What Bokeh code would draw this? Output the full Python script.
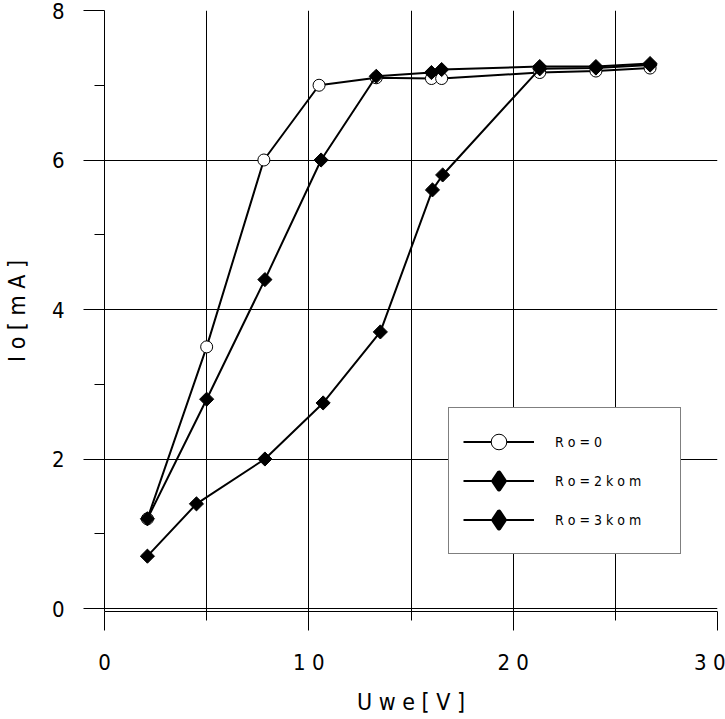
import math
from bokeh.plotting import figure
from bokeh.models import FixedTicker, Legend, LegendItem, Range1d
from bokeh.embed import file_html
from bokeh.resources import INLINE

# ---- data ----
u_ro0 = [2.1, 5.0, 7.8, 10.5, 13.3, 16.0, 16.5, 21.3, 24.05, 26.7]
i_ro0 = [1.2, 3.5, 6.0, 7.0, 7.1, 7.09, 7.09, 7.17, 7.19, 7.23]
u_ro2 = [2.1, 5.0, 7.85, 10.6, 13.3, 16.0, 16.5, 21.3, 24.05, 26.7]
i_ro2 = [1.2, 2.8, 4.4, 6.0, 7.12, 7.17, 7.21, 7.25, 7.25, 7.29]
u_ro3 = [2.1, 4.5, 7.85, 10.7, 13.5, 16.05, 16.55, 21.3, 24.05, 26.7]
i_ro3 = [0.7, 1.4, 2.0, 2.75, 3.7, 5.6, 5.8, 7.22, 7.23, 7.27]

labels = ["R o = 0", "R o = 2 k o m", "R o = 3 k o m"]
x_major = [0, 10, 20, 30]
x_minor = [5, 15, 25]
x_labels = {0: "0", 10: "1 0", 20: "2 0", 30: "3 0"}
y_major = [0, 2, 4, 6, 8]
y_minor = [1, 3, 5, 7]
x_title = "U w e [ V ]"
y_title = "I o [ m A ]"

FONT = "DejaVu Sans Condensed, DejaVu Sans, sans-serif"

p = figure(width=725, height=719, output_backend="svg", toolbar_location=None,
           x_range=Range1d(0, 30), y_range=Range1d(-0.04, 8),
           min_border_left=102, min_border_right=8, min_border_top=10,
           min_border_bottom=108)
p.outline_line_color = None
p.background_fill_color = "white"
p.border_fill_color = "white"

# grids
p.xgrid.ticker = FixedTicker(ticks=sorted(x_major + x_minor))
p.ygrid.ticker = FixedTicker(ticks=y_major)
for g in (p.xgrid, p.ygrid):
    g.grid_line_color = "black"
    g.grid_line_width = 1
    g.grid_line_alpha = 1

# axes
p.xaxis.ticker = FixedTicker(ticks=x_major, minor_ticks=x_minor)
p.xaxis.major_label_overrides = {k: v for k, v in x_labels.items()}
p.yaxis.ticker = FixedTicker(ticks=y_major, minor_ticks=y_minor)
p.xaxis.major_tick_out = 19
p.xaxis.minor_tick_out = 9
p.yaxis.major_tick_out = 21
p.yaxis.minor_tick_out = 10
for ax in (p.xaxis, p.yaxis):
    ax.major_tick_in = 0
    ax.minor_tick_in = 0
    ax.axis_line_color = "black"
    ax.major_tick_line_color = "black"
    ax.minor_tick_line_color = "black"
    ax.major_label_text_font = FONT
    ax.major_label_text_font_size = "22px"
    ax.major_label_text_color = "black"
    ax.axis_label_text_font = FONT
    ax.axis_label_text_font_size = "23px"
    ax.axis_label_text_font_style = "normal"
    ax.axis_label_text_color = "black"
p.xaxis.major_label_standoff = 19
p.yaxis.major_label_standoff = 19
p.xaxis.axis_label = x_title
p.yaxis.axis_label = y_title
p.xaxis.axis_label_standoff = 11
p.yaxis.axis_label_standoff = 19

# series
l0 = p.line(u_ro0, i_ro0, line_color="black", line_width=2)
s0 = p.scatter(u_ro0, i_ro0, marker="circle", size=12, fill_color="white",
               line_color="black", line_width=1)
l1 = p.line(u_ro2, i_ro2, line_color="black", line_width=2)
s1 = p.scatter(u_ro2, i_ro2, marker="square", angle=math.pi / 4, size=10,
               fill_color="black", line_color="black")
l2 = p.line(u_ro3, i_ro3, line_color="black", line_width=2)
s2 = p.scatter(u_ro3, i_ro3, marker="square", angle=math.pi / 4, size=10,
               fill_color="black", line_color="black")

# legend-only glyphs (NaN point, never drawn in the plot) so the legend shows diamonds
nan = float("nan")
k1 = p.scatter([nan], [nan], marker="diamond", fill_color="black",
               line_color="black", line_width=5, line_join="round")
k2 = p.scatter([nan], [nan], marker="diamond", fill_color="black",
               line_color="black", line_width=5, line_join="round")

legend = Legend(items=[
    LegendItem(label=labels[0], renderers=[l0, s0]),
    LegendItem(label=labels[1], renderers=[l1, k1]),
    LegendItem(label=labels[2], renderers=[l2, k2]),
])
legend.location = (344, 57)
legend.glyph_width = 71
legend.glyph_height = 39
legend.spacing = 0
legend.padding = 14
legend.label_standoff = 21
legend.label_width = 111
legend.label_height = 20
legend.label_text_font = FONT
legend.label_text_font_size = "14px"
legend.label_text_color = "black"
legend.border_line_color = "black"
legend.border_line_width = 1
legend.background_fill_color = "white"
legend.background_fill_alpha = 1
legend.margin = 0
p.add_layout(legend)

open("out.html", "w").write(file_html(p, INLINE))
